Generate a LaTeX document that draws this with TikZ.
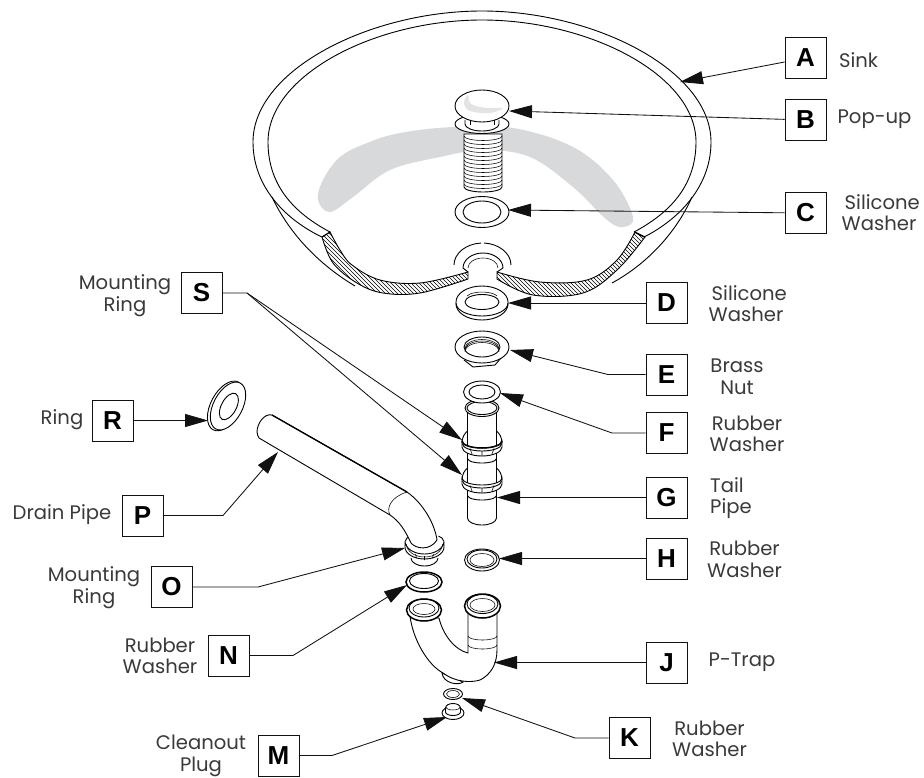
\documentclass[tikz,border=0pt]{standalone}
\usepackage{fontspec}
\setmainfont{Poppins}
\newfontfamily\letterfont{Liberation Sans}
\usetikzlibrary{arrows.meta}
\definecolor{inkc}{HTML}{111111}
\definecolor{labelc}{HTML}{3A3A3A}
\definecolor{greyarc}{HTML}{D7D9DB}
\tikzset{
  letterbox/.style={draw=inkc,line width=0.9pt,minimum size=41pt,inner sep=0pt,fill=white,text=black,font=\letterfont\bfseries\fontsize{26}{26}\selectfont},
  caption/.style={inner sep=0pt,align=center,text=labelc,font=\fontsize{19.6}{21.6}\selectfont},
  leader/.style={draw=inkc,line width=0.85pt,-{Triangle[length=23pt,width=13pt]}},
  part/.style={draw=black,line width=0.9pt,fill=white},
  edge/.style={draw=black,line width=0.9pt},
  heavy/.style={draw=black,line width=1.5pt},
  thin/.style={draw=black,line width=0.55pt},
}
\newcommand{\nutpart}{%
  \draw[edge] (-20,0) .. controls (-20,-6) and (-17,-10) .. (-14.5,-12);
  \draw[edge] (20,0) .. controls (20,-6) and (17,-10) .. (14.5,-12);
  \draw[part] (-20,-2) -- (-20,4) arc[start angle=180,end angle=0,x radius=20,y radius=9] -- (20,-2) arc[start angle=0,end angle=180,x radius=20,y radius=7] -- cycle;
  \draw[edge] (-19.5,1) arc[start angle=180,end angle=0,x radius=19.5,y radius=7];
  \draw[thin] (-12,5.5) -- (-10,11) (0,8) -- (0,13) (12,5.5) -- (10,11);
}
\begin{document}
\begin{tikzpicture}[x=1pt,y=-1pt]
\useasboundingbox (0,0) rectangle (924,777);
\fill[white] (0,0) rectangle (924,777);

% grey shadow in the basin
\fill[greyarc] plot[smooth cycle,tension=0.6] coordinates {(318,200)(323,180)(340,157)(367,143)(400,133)(453,127)(513,128)(573,147)(613,180)(633,217)(623,227)(607,220)(573,187)(530,157)(483,150)(440,157)(390,170)(353,197)(330,212)};

% sink rim
\draw[edge] (322,237) .. controls (290,222) and (253,190) .. (253,142) .. controls (253,70) and (370,11) .. (482,11) .. controls (594,11) and (711,70) .. (711,142) .. controls (711,190) and (674,222) .. (644,237);
\draw[edge] (330,232) .. controls (300,216) and (268,190) .. (268,142) .. controls (268,75) and (375,20) .. (482,20) .. controls (589,20) and (696,75) .. (696,142) .. controls (696,190) and (664,216) .. (634,232);
\draw[edge] (322,237) -- (330,232) (644,237) -- (634,232);
% bowl outside
\draw[edge] (272,197) .. controls (290,235) and (320,265) .. (355,286);
\draw[edge] (692,197) .. controls (675,235) and (645,265) .. (612,283);

% hatched sections
\begin{scope}
\clip plot[smooth,tension=0.6] coordinates {(330,232)(340,250)(352,265)(380,280)(420,283)(468,272)} -- plot[smooth,tension=0.6] coordinates {(468,279)(420,293)(383,293)(357,283)(333,263)(322,237)} -- cycle;
\foreach \i in {180,184,...,480}{\draw[line width=0.5pt] (\i,200) -- ++(110,110);}
\end{scope}
\draw[edge] plot[smooth,tension=0.6] coordinates {(330,232)(340,250)(352,265)(380,280)(420,283)(468,272)} -- plot[smooth,tension=0.6] coordinates {(468,279)(420,293)(383,293)(357,283)(333,263)(322,237)} -- cycle;
\begin{scope}
\clip plot[smooth,tension=0.6] coordinates {(497,272)(540,282)(587,280)(617,260)(635,232)} -- plot[smooth,tension=0.6] coordinates {(645,237)(617,270)(583,293)(533,295)(497,279)} -- cycle;
\foreach \i in {340,344,...,640}{\draw[line width=0.5pt] (\i,200) -- ++(110,110);}
\end{scope}
\draw[edge] plot[smooth,tension=0.6] coordinates {(497,272)(540,282)(587,280)(617,260)(635,232)} -- plot[smooth,tension=0.6] coordinates {(645,237)(617,270)(583,293)(533,295)(497,279)} -- cycle;

% drain hole in the sink
\draw[edge] (454,265) arc[start angle=180,end angle=266,x radius=29,y radius=22];
\draw[edge] (484,243) arc[start angle=274,end angle=360,x radius=29,y radius=22] ;
\draw[edge] (468,272) -- (463,268) arc[start angle=180,end angle=360,x radius=20,y radius=15] -- (497,272);
\draw[thin] (468,268) arc[start angle=180,end angle=360,x radius=15,y radius=10];

% B pop-up
\draw[part] (464,134) -- (464,187) arc[start angle=180,end angle=0,x radius=19,y radius=5] -- (502,134) -- cycle;
\foreach \y in {136,140,...,184}{\draw[thin] (464,\y) arc[start angle=180,end angle=0,x radius=19,y radius=4.5];}
\draw[part] (482,124) ellipse[x radius=27,y radius=9.5];
\draw[edge] (465,120) -- (465,124) arc[start angle=180,end angle=0,x radius=17,y radius=7] -- (499,120);
\draw[thin] (470,120) -- (470,125) (494,120) -- (494,125);
\draw[part] (482,106) ellipse[x radius=27,y radius=16];
\fill[gray!22] plot[smooth cycle,tension=0.6] coordinates {(468,95)(464,103)(470,111)(490,113)(503,108)(487,108)(471,104)};

% C washer
\draw[part] (482,212) ellipse[x radius=27,y radius=15.5];
\draw[edge] (482,212) ellipse[x radius=19,y radius=11];

% D washer
\draw[part] (456,303) -- (456,304) arc[start angle=180,end angle=0,x radius=26,y radius=16] -- (508,302) arc[start angle=0,end angle=-180,x radius=26,y radius=16] -- cycle;
\draw[edge] (456,303) arc[start angle=180,end angle=0,x radius=26,y radius=13];
\draw[edge] (482,302) ellipse[x radius=17,y radius=7.5];
\draw[thin] (467,296) arc[start angle=200,end angle=340,x radius=16,y radius=6];

% E brass nut
\draw[edge] (464,360) -- (473,367) -- (495,365) -- (501,358);
\draw[part] (482,347) ellipse[x radius=27,y radius=16];
\draw[edge] (482,347) ellipse[x radius=18,y radius=10];
\foreach \d in {1.5,3,4.5}{\draw[thin] (465,{347+\d}) arc[start angle=180,end angle=360,x radius=17,y radius=9];}

% F/G tail pipe with rings
\draw[part] (467.5,408) -- (467.5,518) arc[start angle=180,end angle=0,x radius=14.5,y radius=7] -- (496.5,408) -- cycle;
\draw[part] (482,408) ellipse[x radius=17,y radius=8.5];
\draw[edge] (482,408) ellipse[x radius=15,y radius=6.5];
\draw[part] (482,392) ellipse[x radius=18.5,y radius=11];
\draw[edge] (482,392) ellipse[x radius=13,y radius=7];
\draw[edge] (468,459) arc[start angle=180,end angle=0,x radius=14,y radius=4];
\draw[edge] (468,496) arc[start angle=180,end angle=0,x radius=14,y radius=4];
\begin{scope}[shift={(482,443)}]\nutpart\end{scope}
\begin{scope}[shift={(482,480)}]\nutpart\end{scope}
\draw[heavy] (462,441) arc[start angle=180,end angle=0,x radius=20,y radius=7];

% H washer
\draw[part] (482,560) ellipse[x radius=17.5,y radius=11];
\draw[edge] (482,559) ellipse[x radius=15,y radius=9];
\draw[thin] (482,560) ellipse[x radius=12,y radius=6.5];

% R ring
\begin{scope}[shift={(228,406)},rotate=-28]
\draw[part] (-2,1) ellipse[x radius=15,y radius=27];
\draw[part] (0,0) ellipse[x radius=14.5,y radius=26];
\draw[edge] (1,0) ellipse[x radius=7.5,y radius=14.5];
\end{scope}

% P drain pipe with O ring
\draw[edge] (411,558) arc[start angle=180,end angle=0,x radius=13.5,y radius=8];
\begin{scope}[shift={(424.5,541)}]
\draw[edge] (-19,0) .. controls (-19,-2) and (-17,-4) .. (-14,-5);
\draw[edge] (19,0) .. controls (19,-2) and (17,-4) .. (14,-5);
\draw[part] (-19.5,0) -- (-19.5,6) arc[start angle=180,end angle=0,x radius=19.5,y radius=12] -- (19.5,0) arc[start angle=0,end angle=180,x radius=19.5,y radius=13] -- cycle;
\draw[thin] (-18,3) arc[start angle=180,end angle=0,x radius=18,y radius=13];
\draw[thin] (-9,13) -- (-8,17) (0,15) -- (0,19) (9,13) -- (8,17);
\end{scope}
\draw[part] (257,432) .. controls (257,424) and (264,413) .. (272,415) -- (407,492) .. controls (424,504) and (435,525) .. (437,540) .. controls (430,551) and (416,549) .. (411,543) .. controls (405,530) and (399,521) .. (390,515) -- (259,438) .. controls (258,436) and (257,434) .. (257,432) -- cycle;
\draw[heavy,line width=1.3pt] (272,415) -- (407,492);
\draw[thin] (407,492) .. controls (391,497) and (386,508) .. (390,515);

% N washer
\draw[heavy,fill=white] (424,582) ellipse[x radius=18,y radius=10];
\draw[edge] (424,581) ellipse[x radius=14.5,y radius=7.5];

% J P-trap
\draw[part] (442,673) .. controls (443,683) and (458,686) .. (463,682) -- cycle;
\draw[part] (410,616) .. controls (413,640) and (428,665) .. (443,673) .. controls (455,682) and (470,683) .. (480,680) .. controls (490,675) and (497,665) .. (497,650) -- (497,612) -- (468,612) -- (468,653) .. controls (455,650) and (443,635) .. (439,618) -- cycle;
\draw[thin] (468,636) arc[start angle=180,end angle=0,x radius=14.5,y radius=4];
\draw[thin] (468,645) arc[start angle=180,end angle=0,x radius=14.5,y radius=4];
\draw[heavy,fill=white] (424,610) ellipse[x radius=17.5,y radius=11];
\draw[edge] (424,608) ellipse[x radius=15,y radius=9];
\draw[thin] (424,609) ellipse[x radius=11,y radius=5.5];
\draw[heavy,fill=white] (482.5,606) ellipse[x radius=18,y radius=12];
\draw[edge] (482.5,604) ellipse[x radius=15.5,y radius=9.5];
\draw[thin] (482.5,605) ellipse[x radius=12.5,y radius=6.5];

% K washer
\draw[part] (453,694) ellipse[x radius=9.5,y radius=5.5];
\draw[thin] (453,694) ellipse[x radius=6.5,y radius=3.5];

% M plug
\draw[part] (453,713) ellipse[x radius=11,y radius=6.5];
\draw[part] (445.5,712) -- (445.5,708) .. controls (446,702) and (460,702) .. (460.5,708) -- (460.5,712) arc[start angle=0,end angle=180,x radius=7.5,y radius=3.5] -- cycle;
\draw[thin] (446,707) arc[start angle=180,end angle=0,x radius=7,y radius=3];

% letter boxes
\node[letterbox] (A) at (805.5,58) {A};
\node[letterbox] (B) at (805.5,120) {B};
\node[letterbox] (C) at (805.5,213) {C};
\node[letterbox] (D) at (666.5,303) {D};
\node[letterbox] (E) at (666.5,374.5) {E};
\node[letterbox] (F) at (666.5,433) {F};
\node[letterbox] (G) at (666.5,497.5) {G};
\node[letterbox] (H) at (666.5,558.5) {H};
\node[letterbox] (J) at (666.5,662.5) {J};
\node[letterbox] (K) at (629.5,738) {K};
\node[letterbox] (M) at (278.5,755.5) {M};
\node[letterbox] (N) at (228.5,655.5) {N};
\node[letterbox] (O) at (171.5,587) {O};
\node[letterbox] (P) at (142.5,515.5) {P};
\node[letterbox] (R) at (112.5,420.5) {R};
\node[letterbox] (S) at (201.5,293) {S};

% captions
\node[caption] (tA) at (858.5,60) {Sink};
\node[caption] (tB) at (874.5,119) {Pop-up};
\node[caption] (tC) at (879,212.5) {\,\,Silicone\\Washer};
\node[caption] (tD) at (746,303.5) {\,\,Silicone\\Washer};
\node[caption] (tE) at (737,376.5) {Brass\\Nut};
\node[caption] (tF) at (747,434) {Rubber\\Washer};
\node[caption,align=left] (tG) at (731,498) {Tail\\Pipe};
\node[caption] (tH) at (744.5,559.5) {Rubber\\Washer};
\node[caption] (tJ) at (742,662.5) {P-Trap};
\node[caption] (tK) at (709.5,739) {Rubber\\Washer};
\node[caption] (tM) at (201,756) {Cleanout\\Plug};
\node[caption] (tN) at (160,656) {Rubber\\Washer};
\node[caption] (tO) at (94,587.5) {Mounting\\Ring};
\node[caption] (tP) at (62,515) {Drain Pipe};
\node[caption] (tR) at (62,420) {Ring};
\node[caption] (tS) at (125,295.5) {Mounting\\Ring};

% connector ends
\coordinate (aA) at (680,82);
\coordinate (aB) at (509,111);
\coordinate (aC) at (508,210);
\coordinate (aD) at (508,303);
\coordinate (kE) at (608,374.5);
\coordinate (aE) at (510,350);
\coordinate (kF) at (612,433);
\coordinate (aF) at (500,393);
\coordinate (aG) at (497,497.5);
\coordinate (aH) at (499,558.5);
\coordinate (aJ) at (494,662.5);
\coordinate (kK) at (575,738);
\coordinate (aK) at (462,698);
\coordinate (kM) at (332,755.5);
\coordinate (aM) at (447,717);
\coordinate (kN) at (293,655.5);
\coordinate (aN) at (407,585);
\coordinate (kO) at (258,587);
\coordinate (aO) at (405,548);
\coordinate (kP) at (223,515.5);
\coordinate (aP) at (278,452);
\coordinate (aR) at (208,420.5);
\coordinate (kS) at (247,293);
\coordinate (aS) at (462,440);
\coordinate (bS) at (462,475);

% connectors
\draw[leader] (A) -- (aA);
\draw[leader] (B) -- (aB);
\draw[leader] (C) -- (aC);
\draw[leader] (D) -- (aD);
\draw[leader] (E) -- (kE) -- (aE);
\draw[leader] (F) -- (kF) -- (aF);
\draw[leader] (G) -- (aG);
\draw[leader] (H) -- (aH);
\draw[leader] (J) -- (aJ);
\draw[leader] (K) -- (kK) -- (aK);
\draw[leader] (M) -- (kM) -- (aM);
\draw[leader] (N) -- (kN) -- (aN);
\draw[leader] (O) -- (kO) -- (aO);
\draw[leader] (P) -- (kP) -- (aP);
\draw[leader] (R) -- (aR);
\draw[leader] (S) -- (kS) -- (aS);
\draw[leader] (kS) -- (bS);
\end{tikzpicture}
\end{document}
